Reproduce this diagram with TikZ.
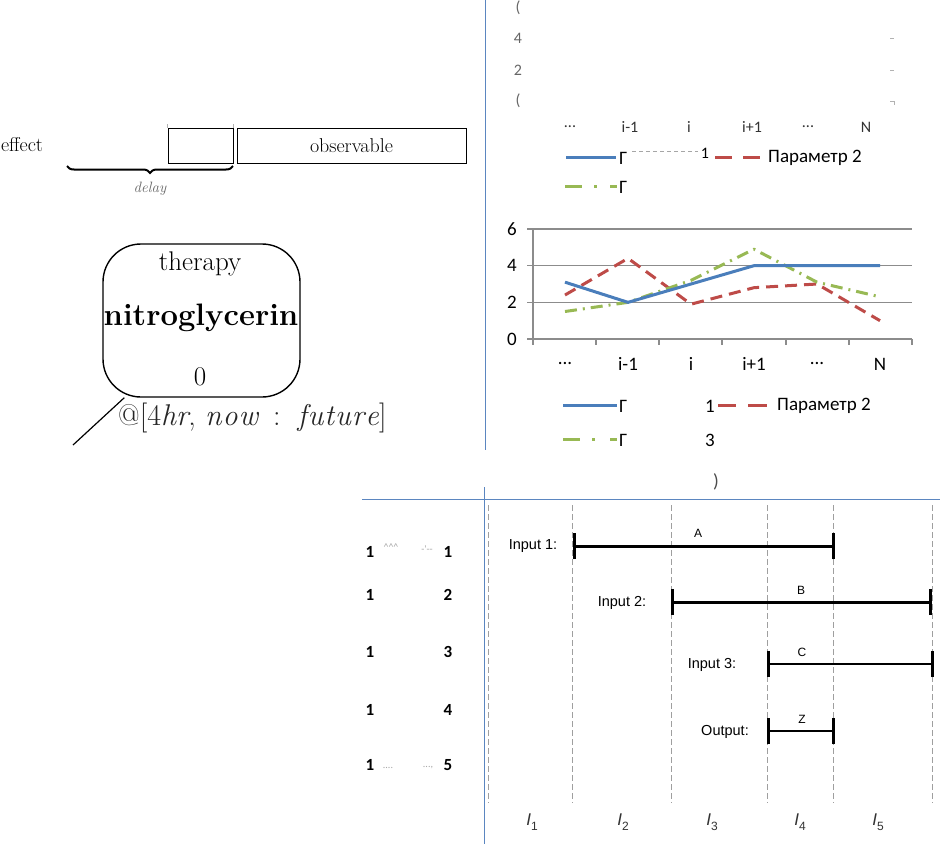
\documentclass[tikz,border=0pt]{standalone}
\usepackage{fontspec}
\newfontfamily\calfont{Carlito}
\newfontfamily\arfont{Liberation Sans}
\usetikzlibrary{decorations.pathreplacing}
\definecolor{ruleblue}{HTML}{5B86C0}
\definecolor{serblue}{HTML}{4A7EBB}
\definecolor{serred}{HTML}{BE4B48}
\definecolor{sergreen}{HTML}{98B954}
\definecolor{gridgray}{HTML}{8C8C8C}
\tikzset{
  rulel/.style={draw=ruleblue,line width=1pt},
  cal/.style={font=\calfont\fontsize{19}{21}\selectfont,inner sep=0pt},
  calsmall/.style={font=\calfont\fontsize{16}{18}\selectfont,inner sep=0pt},
  calfrag/.style={font=\calfont\bfseries\fontsize{17}{19}\selectfont,inner sep=0pt},
  ar/.style={font=\arfont\fontsize{14.5}{16}\selectfont,inner sep=0pt},
  arsmall/.style={font=\arfont\fontsize{12}{13}\selectfont,inner sep=0pt},
  sblue/.style={serblue,line width=3pt},
  sred/.style={serred,line width=3pt,dash pattern=on 12pt off 7pt},
  sgreen/.style={sergreen,line width=3pt,dash pattern=on 12pt off 6pt on 2pt off 6pt},
  vdash/.style={gray!75,line width=0.8pt,dash pattern=on 6pt off 3pt},
  thickbar/.style={line width=3pt},
  thinbar/.style={line width=2.2pt},
  endtick/.style={line width=3pt},
  lmbox/.style={draw,line width=0.9pt,inner sep=0pt},
}
\begin{document}
\begin{tikzpicture}[x=1pt,y=-1pt]
\useasboundingbox (0,0) rectangle (940,844);
\fill[white] (0,0) rectangle (940,844);

% ---- blue panel rules
\draw[rulel] (485,0) -- (485,450);
\draw[rulel] (362,499) -- (940,499);
\draw[rulel] (484,487) -- (484,844);

% ---- top-left: effect / observable
\node[font=\fontsize{20}{22}\selectfont,inner sep=0pt] (effect) at (22,145) {effect};
\node[lmbox,minimum width=65pt,minimum height=35pt] (gap) at (200.5,145.5) {};
\node[lmbox,minimum width=229pt,minimum height=35pt,font=\fontsize{20}{22}\selectfont] (obs) at (351.5,145.5) {observable};
\draw[gray!60,line width=0.5pt] (gap.north west) -- ++(0,-4);
\draw[gray!60,line width=0.5pt] (gap.north east) -- ++(0,-4);
\coordinate (bl) at (67,166);
\coordinate (br) at (233,166);
\draw[line width=2pt,decorate,decoration={brace,amplitude=7pt,mirror}] (bl) -- (br);
\node[font=\fontsize{15}{17}\selectfont\itshape,text=gray!80!black,inner sep=0pt] (delay) at (150,189) {delay};

% ---- therapy box
\node[draw,line width=1.4pt,rounded corners=38pt,minimum width=197pt,minimum height=153pt,inner sep=0pt] (box) at (201.5,320.5) {};
\node[font=\fontsize{27}{30}\selectfont,inner sep=0pt] (ther) at (200,264) {therapy};
\node[font=\fontsize{31}{34}\selectfont\bfseries,inner sep=0pt] (nitro) at (201,318) {nitroglycerin};
\node[font=\fontsize{27}{30}\selectfont,inner sep=0pt] (zero) at (200,377) {0};
\coordinate (tail) at (73,445);
\draw[line width=1.2pt] (box.-135) -- (tail);
\node[font=\fontsize{30}{33}\selectfont,inner sep=0pt,anchor=west,text=black!85] (ann) at (118,418) {@[4\textit{hr}, \textit{n\kern1pt o\kern1pt w} \,:\, \textit{f\kern1pt u\kern1pt t\kern1pt u\kern1pt r\kern1pt e}]};

% ---- top chart (faded fragments)
\node[calsmall,text=black!60] (t6) at (518,8) {(};
\node[calsmall,text=black!60] (t4) at (518,38) {4};
\node[calsmall,text=black!60] (t2) at (518,70) {2};
\node[calsmall,text=black!60] (t0) at (518,101) {(};
\draw[gray!60,line width=0.8pt] (890,38) -- (894,38);
\draw[gray!60,line width=0.8pt] (890,70) -- (894,70);
\draw[gray!60,line width=0.8pt] (890,101) -- (894,101) -- (894,105);
\foreach \xx/\lab in {570/{...},630/{i-1},689/{i},752/{i+1},808/{...},866/{N}}{
  \node[calsmall,text=black!80] at (\xx,127) {\lab};
}
\draw[sblue] (566,157) -- (616,157);
\node[cal,anchor=west] (lg1) at (619,158) {Г};
\draw[gray!70,line width=1pt,dash pattern=on 4pt off 3pt] (632,151) -- (698,151);
\node[calsmall] (lg1n) at (705,153) {1};
\draw[serred,line width=3pt] (715,157) -- (732,157);
\draw[serred,line width=3pt] (743,157) -- (760,157);
\node[cal,anchor=west] (lg2) at (768,158) {Параметр 2};
\draw[sergreen,line width=3pt] (565,186) -- (582,186);
\draw[sergreen,line width=3pt] (594,186) -- (597,186);
\draw[sergreen,line width=3pt] (610,186) -- (617,186);
\node[cal,anchor=west] (lg3) at (619,187) {Г};

% ---- middle chart
\begin{scope}[shift={(0,339)},y=18.33pt]
  \foreach \v in {2,4,6}{\draw[gridgray,line width=1.2pt] (533,\v) -- (912,\v);}
  \draw[gridgray,line width=1.6pt] (533,0) -- (533,6);
  \draw[gridgray,line width=1.6pt] (533,0) -- (912,0);
  \foreach \v in {0,2,4,6}{
    \draw[gridgray,line width=1.2pt] (527,\v) -- (533,\v);
    \node[cal] at (512,\v) {\v};
  }
  \foreach \xx in {533,596,659,722,786,849,912}{\draw[gridgray,line width=1.2pt] (\xx,0) -- (\xx,-0.3);}
  \foreach \xx/\lab in {565/{...},628/{i-1},691/{i},754/{i+1},817/{...},880/{N}}{
    \node[cal] at (\xx,-1.36) {\lab};
  }
  \draw[sred,line join=round] (565,2.4) -- (628,4.4) -- (691,1.9) -- (754,2.8) -- (817,3) -- (880,1);
  \draw[sgreen,line join=round] (565,1.5) -- (628,2) -- (691,3.2) -- (754,4.9) -- (817,3.1) -- (880,2.3);
  \draw[sblue,line join=round] (565,3.1) -- (628,2) -- (691,3) -- (754,4) -- (817,4) -- (880,4);
\end{scope}
\draw[sblue] (563,405) -- (617,405);
\node[cal,anchor=west] (mg1) at (619,406) {Г};
\node[cal] (mg1n) at (710,406) {1};
\draw[serred,line width=3pt] (718,405) -- (736,405);
\draw[serred,line width=3pt] (748,405) -- (767,405);
\node[cal,anchor=west] (mg2) at (777,406) {Параметр 2};
\draw[sergreen,line width=3pt] (563,439) -- (580,439);
\draw[sergreen,line width=3pt] (592,439) -- (595,439);
\draw[sergreen,line width=3pt] (610,439) -- (617,439);
\node[cal,anchor=west] (mg3) at (619,440) {Г};
\node[cal] (mg3n) at (710,440) {3};
\node[cal,text=black!70] (paren) at (716,482) {)};

% ---- bottom-left fragments
\foreach \yy/\dd in {552/1,595/2,652/3,710/4,765/5}{
  \node[calfrag] at (370,\yy) {1};
  \node[calfrag] at (448,\yy) {\dd};
}
\node[font=\calfont\fontsize{10}{11}\selectfont,text=gray!70,inner sep=0pt] at (391,547) {\^{}\^{}\^{}};
\node[font=\calfont\fontsize{10}{11}\selectfont,text=gray!70,inner sep=0pt] at (427,549) {-'--};
\node[font=\calfont\fontsize{10}{11}\selectfont,text=gray!70,inner sep=0pt] at (388,768) {....};
\node[font=\calfont\fontsize{10}{11}\selectfont,text=gray!70,inner sep=0pt] at (428,768) {...,};

% ---- timeline
\foreach \xx in {488,572,671,767,833,932}{\draw[vdash] (\xx,505) -- (\xx,803);}
\coordinate (a1) at (574,546); \coordinate (a2) at (833,546);
\coordinate (b1) at (672,602); \coordinate (b2) at (930,602);
\coordinate (c1) at (768,664); \coordinate (c2) at (932,664);
\coordinate (z1) at (768,731); \coordinate (z2) at (833,731);
\draw[thickbar] (a1) -- (a2);
\draw[thickbar] (b1) -- (b2);
\draw[thinbar] (c1) -- (c2);
\draw[thinbar] (z1) -- (z2);
\foreach \p in {a1,a2,b1,b2,c1,c2,z1,z2}{\draw[endtick] ([yshift=-13pt]\p) -- ([yshift=13pt]\p);}
\node[ar] (in1) at (533,546) {Input 1:};
\node[ar] (in2) at (622,603) {Input 2:};
\node[ar] (in3) at (712,665) {Input 3:};
\node[ar] (out) at (725,732) {Output:};
\node[arsmall] (la) at (698,533) {A};
\node[arsmall] (lb) at (801,590) {B};
\node[arsmall] (lc) at (802,652) {C};
\node[arsmall] (lz) at (802,719) {Z};
\foreach \xx/\ii in {532/1,623/2,712/3,800/4,878/5}{
  \node[font=\arfont\fontsize{17}{19}\selectfont,inner sep=0pt,text=black!80] at (\xx,822) {\textit{I}\raisebox{-5pt}{\fontsize{12}{13}\selectfont\ii}};
}
\end{tikzpicture}
\end{document}
